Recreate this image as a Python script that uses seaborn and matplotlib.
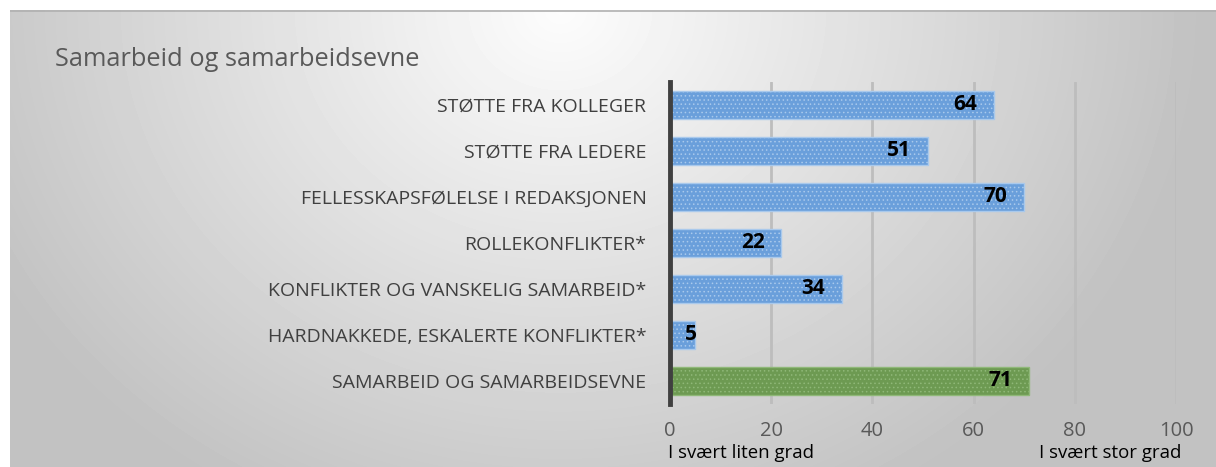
import matplotlib
matplotlib.use("Agg")
import matplotlib.pyplot as plt
import seaborn as sns
import pandas as pd
import numpy as np

# Chart data
categories = [
    "STØTTE FRA KOLLEGER",
    "STØTTE FRA LEDERE",
    "FELLESSKAPSFØLELSE I REDAKSJONEN",
    "ROLLEKONFLIKTER*",
    "KONFLIKTER OG VANSKELIG SAMARBEID*",
    "HARDNAKKEDE, ESKALERTE KONFLIKTER*",
    "SAMARBEID OG SAMARBEIDSEVNE",
]
values = [64, 51, 70, 22, 34, 5, 71]
bar_colors = ["#6a9fdb"] * 6 + ["#6d9a52"]
x_ticks = [0, 20, 40, 60, 80, 100]
title = "Samarbeid og samarbeidsevne"
low_label = "I svært liten grad"
high_label = "I svært stor grad"

sns.set_style("white")
plt.rcParams["font.family"] = ["Open Sans", "DejaVu Sans"]
plt.rcParams["hatch.linewidth"] = 0.6

W, H = 1216, 467
fig = plt.figure(figsize=(W / 100, H / 100), dpi=100)
fig.patch.set_facecolor("white")

# Gradient background panel
bg = fig.add_axes([10 / W, 0, (W - 10) / W, (H - 10) / H], zorder=-1)
gw, gh = W - 10, H - 10
yy, xx = np.mgrid[0:gh, 0:gw]
d = np.sqrt((xx - 550) ** 2 + (yy * 1.15) ** 2)
shade = 0.99 - 0.23 * np.clip(d / 640, 0, 1)
bg.imshow(shade, cmap="gray", vmin=0, vmax=1, aspect="auto",
          extent=(0, gw, gh, 0))
bg.axhline(0.5, color="#b0b0b0", lw=1.2)
bg.axis("off")

df = pd.DataFrame({"kategori": categories, "verdi": values})

ax = fig.add_axes([670 / W, 63 / H, 506 / W, 322 / H])
ax.set_facecolor("none")
sns.barplot(data=df, y="kategori", x="verdi", hue="kategori",
            palette=bar_colors, legend=False, width=0.59, ax=ax,
            saturation=1, zorder=3)
for bar, c in zip(ax.patches, bar_colors):
    bar.set_hatch("....")
    bar.set_edgecolor("#a9c9ec" if c != bar_colors[-1] else "#8fb878")
    bar.set_linewidth(1.0)

# value labels at inside end; short bars keep the label off the axis
for i, v in enumerate(values):
    if v < 8:
        ax.annotate(str(v), (0, i), xytext=(11, 0), textcoords="offset points",
                    ha="left", va="center", fontsize=15, fontweight="bold",
                    color="black", zorder=5)
    else:
        ax.annotate(str(v), (v, i), xytext=(-12, 0), textcoords="offset points",
                    ha="right", va="center", fontsize=15, fontweight="bold",
                    color="black", zorder=5)

ax.set_xlim(0, 100)
ax.set_xticks(x_ticks)
ax.set_xticklabels([str(t) for t in x_ticks], fontsize=14.5, color="#595959")
ax.tick_params(axis="x", length=0, pad=12)
ax.tick_params(axis="y", length=0, pad=17, labelsize=14, labelcolor="#404040")
ax.set_xlabel("")
ax.set_ylabel("")
for t in x_ticks[1:]:
    ax.axvline(t, color="#bdbdbd", lw=2, zorder=1)
for s in ["top", "right", "bottom"]:
    ax.spines[s].set_visible(False)
ax.spines["left"].set_color("#404040")
ax.spines["left"].set_linewidth(3.5)
ax.spines["left"].set_zorder(6)

fig.text(55 / W, 1 - 60 / H, title, fontsize=18.3, color="#595959",
         ha="left", va="center")
fig.text(668 / W, 1 - 453 / H, low_label, fontsize=13.4, color="black",
         ha="left", va="center")
fig.text(1181 / W, 1 - 453 / H, high_label, fontsize=13.4, color="black",
         ha="right", va="center")

fig.savefig("out.png", dpi=100)
